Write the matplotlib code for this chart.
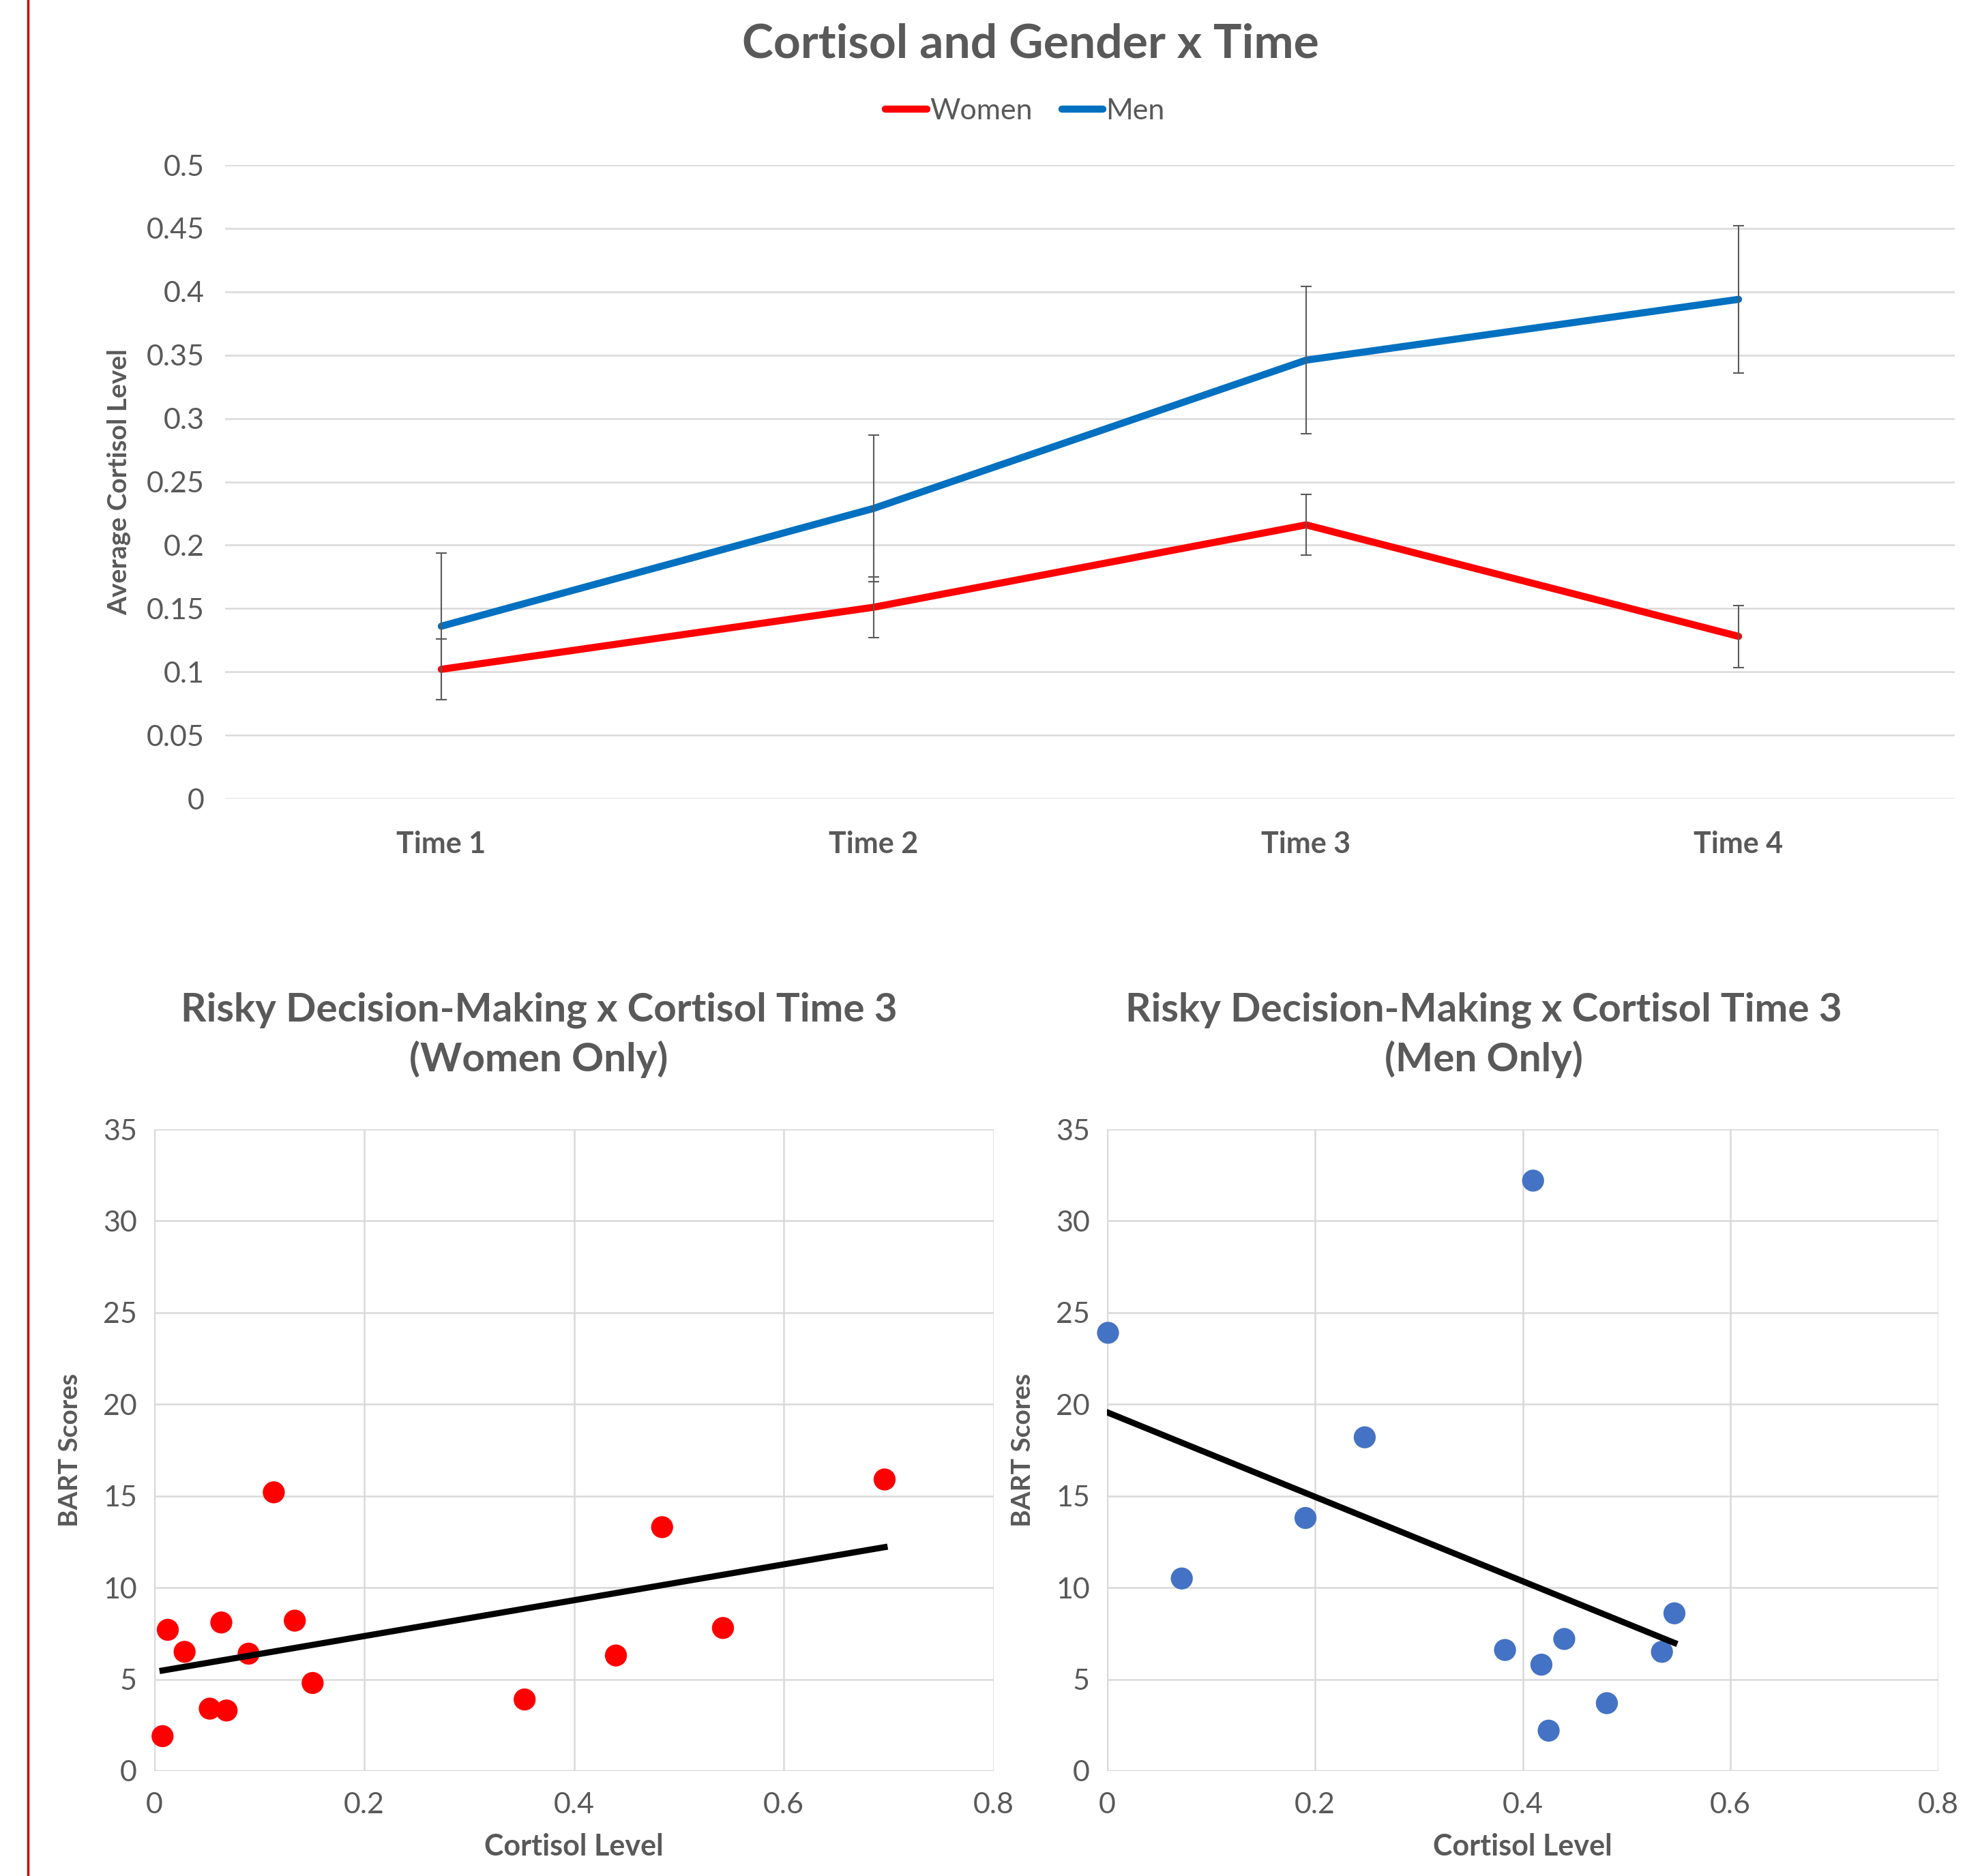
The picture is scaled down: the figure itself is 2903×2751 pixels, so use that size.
import numpy as np
import matplotlib
matplotlib.use('Agg')
import matplotlib.pyplot as plt
from matplotlib.lines import Line2D

plt.rcParams['font.family'] = ['Lato', 'DejaVu Sans']

# ---- data ----
times = ['Time 1', 'Time 2', 'Time 3', 'Time 4']
women_mean = [0.102, 0.151, 0.216, 0.128]
women_err = [0.024, 0.024, 0.024, 0.0245]
men_mean = [0.136, 0.229, 0.346, 0.394]
men_err = [0.058, 0.058, 0.058, 0.058]

women_cortisol = [0.008, 0.013, 0.029, 0.053, 0.064, 0.069, 0.090, 0.114, 0.134,
                  0.151, 0.353, 0.440, 0.484, 0.542, 0.696]
women_bart = [1.9, 7.7, 6.5, 3.4, 8.1, 3.3, 6.4, 15.2, 8.2,
              4.8, 3.9, 6.3, 13.3, 7.8, 15.9]
men_cortisol = [0.001, 0.072, 0.191, 0.248, 0.410, 0.383, 0.418, 0.425, 0.440,
                0.481, 0.534, 0.546]
men_bart = [23.9, 10.5, 13.8, 18.2, 32.2, 6.6, 5.8, 2.2, 7.2,
            3.7, 6.5, 8.6]

W, H = 2903, 2751
DPI = 100
TXT = '#595959'
GRID = '#D9D9D9'

fig = plt.figure(figsize=(W / DPI, H / DPI), dpi=DPI)


def box(l, t, r, b):
    # pixel box -> figure fraction rect
    return [l / W, 1 - b / H, (r - l) / W, (b - t) / H]


def style(ax):
    for s in ax.spines.values():
        s.set_visible(False)
    ax.tick_params(length=0, colors=TXT, labelsize=31)
    ax.set_axisbelow(True)


# ---- top line chart ----
ax = fig.add_axes(box(330, 242, 2866, 1171))
style(ax)
x = np.arange(len(times))
ax.errorbar(x, women_mean, yerr=women_err, fmt='none', ecolor='#5a5a5a',
            elinewidth=1.5, capsize=6, capthick=1.5, zorder=3)
ax.errorbar(x, men_mean, yerr=men_err, fmt='none', ecolor='#5a5a5a',
            elinewidth=1.5, capsize=6, capthick=1.5, zorder=3)
ax.plot(x, women_mean, color='#FF0000', lw=7.5, solid_capstyle='round',
        label='Women', zorder=2)
ax.plot(x, men_mean, color='#0070C0', lw=7.5, solid_capstyle='round',
        label='Men', zorder=2)
ax.set_xlim(-0.5, 3.5)
ax.set_ylim(0, 0.5)
ax.set_yticks(np.arange(0, 0.51, 0.05))
ax.set_yticklabels(['0', '0.05', '0.1', '0.15', '0.2', '0.25', '0.3', '0.35',
                    '0.4', '0.45', '0.5'])
ax.yaxis.grid(True, color=GRID, lw=1.8)
ax.set_xticks(x)
ax.set_xticklabels(times, fontweight='bold')
ax.tick_params(axis='x', pad=34)
ax.tick_params(axis='y', pad=22)
ax.set_ylabel('Average Cortisol Level', color=TXT, fontsize=28,
              fontweight='bold', labelpad=16)
fig.text(1511 / W, 1 - 65 / H, 'Cortisol and Gender x Time', ha='center',
         va='center', fontsize=50, fontweight='bold', color=TXT)
leg = ax.legend(loc='center', bbox_to_anchor=(1503 / W, 1 - 163 / H),
                bbox_transform=fig.transFigure, ncol=2, frameon=False,
                fontsize=31, handlelength=1.4, handletextpad=0.1,
                columnspacing=1.0, labelcolor=TXT)

# ---- scatter charts ----
panels = [
    (box(226, 1656, 1457, 2597), women_cortisol, women_bart, '#FF0000',
     'Risky Decision-Making x Cortisol Time 3\n(Women Only)', 790),
    (box(1623, 1656, 2842, 2597), men_cortisol, men_bart, '#4472C4',
     'Risky Decision-Making x Cortisol Time 3\n(Men Only)', 2175),
]
for rect, xs, ys, col, title, tx in panels:
    a = fig.add_axes(rect)
    style(a)
    a.grid(True, color=GRID, lw=1.8)
    a.set_xlim(0, 0.8)
    a.set_ylim(0, 35)
    a.set_xticks([0, 0.2, 0.4, 0.6, 0.8])
    a.set_xticklabels(['0', '0.2', '0.4', '0.6', '0.8'])
    a.set_yticks(range(0, 36, 5))
    a.tick_params(axis='x', pad=22)
    a.tick_params(axis='y', pad=18)
    a.plot([0, 0], [0, 35], color=GRID, lw=2.5, zorder=1)
    a.plot([0, 0.8], [0, 0], color=GRID, lw=2.5, zorder=1)
    a.scatter(xs, ys, s=540, color=col, edgecolors='none', zorder=3,
              clip_on=False)
    k, b = np.polyfit(xs, ys, 1)
    xt = np.array([min(xs), max(xs)])
    a.plot(xt, k * xt + b, color='black', lw=6.5, zorder=4)
    a.set_xlabel('Cortisol Level', color=TXT, fontsize=31, fontweight='bold',
                 labelpad=16)
    a.set_ylabel('BART Scores', color=TXT, fontsize=28, fontweight='bold',
                 labelpad=22)
    fig.text(tx / W, 1 - 1518 / H, title, ha='center', va='center',
             fontsize=42, fontweight='bold', color=TXT, linespacing=1.4)

# thin red margin rule on the left
fig.add_artist(Line2D([41 / W, 41 / W], [0, 1], color='#CC0000', lw=2.5,
                      transform=fig.transFigure))

fig.savefig('out.png', dpi=DPI, facecolor='white')
